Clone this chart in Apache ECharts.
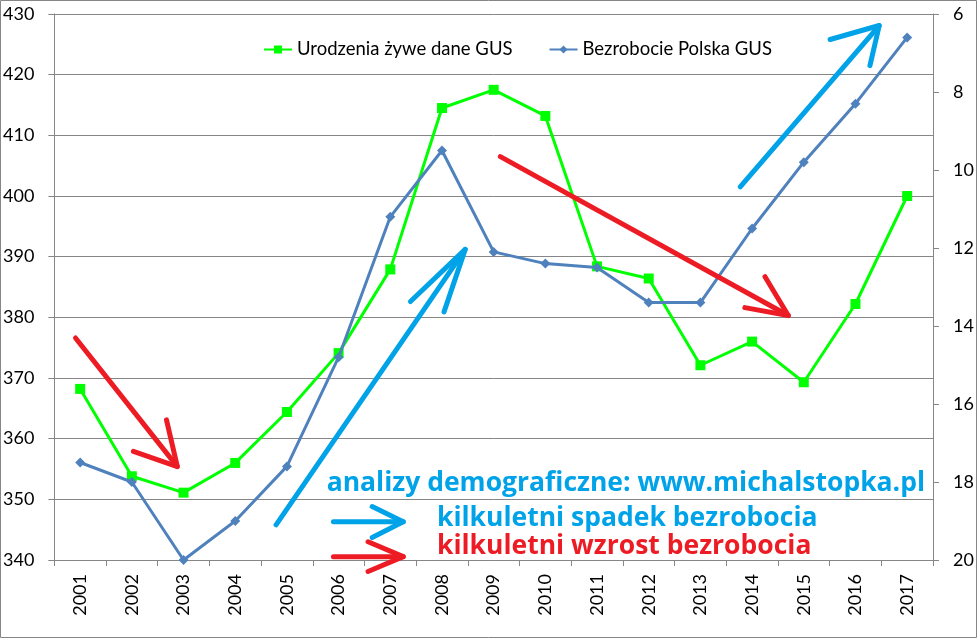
<!DOCTYPE html>
<html><head><meta charset="utf-8">
<script src="https://cdn.jsdelivr.net/npm/echarts@6/dist/echarts.min.js"></script>
<style>html,body{margin:0;padding:0;background:#fff}#c{width:978px;height:639px}</style>
</head><body><div id="c"></div>
<script>
const years = ['2001','2002','2003','2004','2005','2006','2007','2008','2009','2010','2011','2012','2013','2014','2015','2016','2017'];
const births = [368.2, 353.8, 351.1, 356.0, 364.4, 374.1, 387.9, 414.5, 417.5, 413.2, 388.4, 386.4, 372.1, 376.0, 369.3, 382.2, 400.0];
const unemployment = [17.5, 18.0, 20.0, 19.0, 17.6, 14.8, 11.2, 9.5, 12.1, 12.4, 12.5, 13.4, 13.4, 11.5, 9.8, 8.3, 6.6];
const leftTicks = {min: 340, max: 430, interval: 10};
const rightTicks = {min: 6, max: 20, interval: 2};
const seriesNames = ['Urodzenia żywe dane GUS', 'Bezrobocie Polska GUS'];
const noteTexts = ['analizy demograficzne: www.michalstopka.pl', 'kilkuletni spadek bezrobocia', 'kilkuletni wzrost bezrobocia'];

// annotation arrows in (category index, left-axis value) space
const arrows = [
  {color:'#ED1C24', shaft:[[-0.09,376.6],[1.88,355.4]], arms:[[1.67,363.1],[1.03,357.9]]},
  {color:'#00A2E8', shaft:[[3.79,345.8],[7.45,391.2]], arms:[[6.39,382.6],[7.04,380.9]]},
  {color:'#ED1C24', shaft:[[8.13,406.5],[13.70,380.3]], arms:[[13.25,386.7],[12.86,381.6]]},
  {color:'#00A2E8', shaft:[[12.77,401.5],[15.46,428.1]], arms:[[14.51,425.8],[15.28,421.5]]},
  {color:'#00A2E8', shaft:[[4.90,346.3],[6.25,346.3]], arms:[[5.65,348.8],[5.65,343.7]]},
  {color:'#ED1C24', shaft:[[4.90,340.55],[6.25,340.55]], arms:[[5.57,343.0],[5.57,338.1]]}
];

const chart = echarts.init(document.getElementById('c'));
const font = 'Lato';
const gridCol = '#868686';
chart.setOption({
  animation: false,
  backgroundColor: '#fff',
  grid: {left: 54, right: 45, top: 14, bottom: 79, containLabel: false},
  legend: {
    left: 258, top: 35, itemWidth: 28, itemHeight: 10, itemGap: 36,
    textStyle: {fontFamily: font, fontSize: 18.5, color: '#000'},
    data: seriesNames
  },
  xAxis: {
    type: 'category', data: years, boundaryGap: true,
    axisLine: {lineStyle: {color: gridCol, width: 1}},
    axisTick: {show: true, alignWithLabel: false, length: 6, lineStyle: {color: gridCol}},
    axisLabel: {rotate: 90, margin: 14, fontFamily: font, fontSize: 18, color: '#000', interval: 0}
  },
  yAxis: [
    {type: 'value', min: leftTicks.min, max: leftTicks.max, interval: leftTicks.interval,
     axisLine: {show: true, lineStyle: {color: gridCol}},
     axisTick: {show: true, length: 6, lineStyle: {color: gridCol}},
     splitLine: {show: true, lineStyle: {color: gridCol, width: 1}},
     axisLabel: {margin: 20, fontFamily: font, fontSize: 18, color: '#000'}},
    {type: 'value', min: rightTicks.min, max: rightTicks.max, interval: rightTicks.interval, inverse: true,
     axisLine: {show: true, lineStyle: {color: gridCol}},
     axisTick: {show: true, length: 6, lineStyle: {color: gridCol}},
     splitLine: {show: false},
     axisLabel: {margin: 20, fontFamily: font, fontSize: 18, color: '#000'}}
  ],
  series: [
    {name: seriesNames[0], type: 'line', data: births, yAxisIndex: 0,
     symbol: 'rect', symbolSize: 10, itemStyle: {color: '#00FF00'},
     lineStyle: {color: '#00FF00', width: 3}, z: 3},
    {name: seriesNames[1], type: 'line', data: unemployment, yAxisIndex: 1,
     symbol: 'diamond', symbolSize: 10, itemStyle: {color: '#4F81BD'},
     lineStyle: {color: '#4F81BD', width: 3}, z: 4}
  ]
});

function px(p) {
  const a = chart.convertToPixel({xAxisIndex: 0}, 0);
  const b = chart.convertToPixel({xAxisIndex: 0}, years.length - 1);
  const x = a + (b - a) * p[0] / (years.length - 1);
  const y = chart.convertToPixel({yAxisIndex: 0}, p[1]);
  return [x, y];
}
const graphics = [
  {type: 'rect', shape: {x: 0.5, y: 0.5, width: 976, height: 637}, style: {fill: null, stroke: gridCol, lineWidth: 1}, silent: true, z: 0}
];
arrows.forEach(a => {
  const tip = px(a.shaft[1]);
  graphics.push({type: 'polyline', shape: {points: [px(a.shaft[0]), tip]}, style: {stroke: a.color, lineWidth: 5, lineCap: 'round', fill: null}, z: 10});
  graphics.push({type: 'polyline', shape: {points: [px(a.arms[0]), tip, px(a.arms[1])]}, style: {stroke: a.color, lineWidth: 5, lineCap: 'round', lineJoin: 'round', fill: null}, z: 10});
});
const noteFont = 'bold 26.5px "Open Sans"';
graphics.push({type: 'text', x: 925, y: 483, style: {text: noteTexts[0], fill: '#00A2E8', font: noteFont, textAlign: 'right', textVerticalAlign: 'middle'}, z: 11});
graphics.push({type: 'text', x: 437, y: 518, style: {text: noteTexts[1], fill: '#00A2E8', font: noteFont, textAlign: 'left', textVerticalAlign: 'middle'}, z: 11});
graphics.push({type: 'text', x: 437, y: 546, style: {text: noteTexts[2], fill: '#ED1C24', font: noteFont, textAlign: 'left', textVerticalAlign: 'middle'}, z: 11});
chart.setOption({graphic: graphics});
</script>
</body></html>
